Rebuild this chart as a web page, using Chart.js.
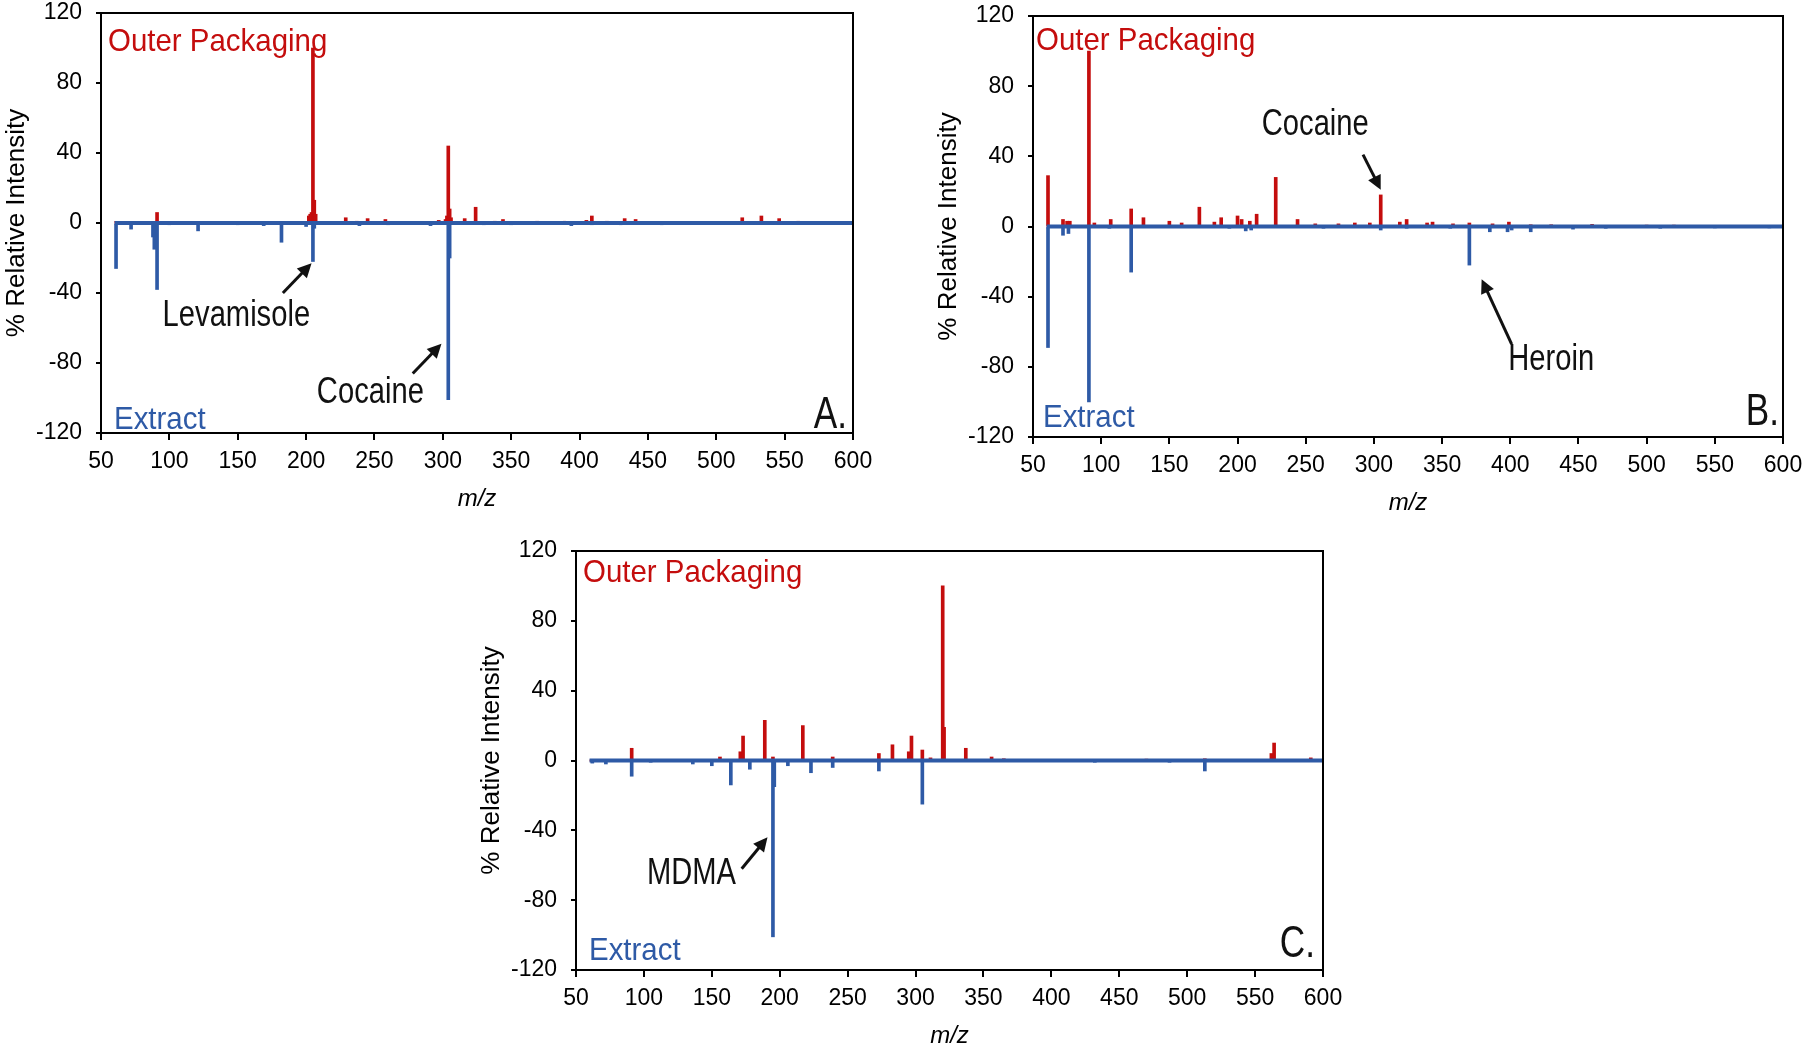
<!DOCTYPE html>
<html>
<head>
<meta charset="utf-8">
<title>Outer packaging vs extract spectra</title>
<script src="https://cdn.jsdelivr.net/npm/chart.js@4.4.1/dist/chart.umd.min.js"></script>
<style>
  html, body { margin: 0; padding: 0; background: #fff; overflow: hidden; }
  body { width: 1806px; height: 1048px; position: relative; }
  canvas { position: absolute; }
</style>
</head>
<body>
<canvas id="chartA"></canvas>
<canvas id="chartB"></canvas>
<canvas id="chartC"></canvas>
<script>
// axis ticks
const xTicks = [50, 100, 150, 200, 250, 300, 350, 400, 450, 500, 550, 600];
const yTicks = [-120, -80, -40, 0, 40, 80, 120];
const mzRange = [60, 600];

// A. cocaine + levamisole
const mzOuterA = [61, 72, 91, 121, 150, 182, 202, 203, 204, 205, 206, 207, 229, 237, 245, 258, 285, 297,
  302, 303, 304, 305, 306, 316, 324, 338, 344, 369, 389, 405, 409, 420, 433, 441, 460, 478, 500,
  519, 533, 546, 560, 573, 590];
const intOuterA = [0.8, 0.6, 6, 0.6, 0.5, 0.8, 4, 5, 6, 100, 13, 5, 3, 1, 2.5, 2, 0.8, 1.5,
  2, 4, 44, 8, 3, 2.5, 9, 1, 2, 1, 1, 1.5, 4, 1, 2.5, 2, 0.8, 0.8, 0.6,
  3, 4, 2.5, 1, 0.8, 0.8];
const mzExtractA = [61, 72, 88, 89, 91, 100, 121, 150, 169, 182, 200, 205, 206, 239, 260, 291, 304, 305,
  330, 350, 394, 409, 430, 460, 500, 560];
const intExtractA = [-26, -3.5, -8, -15, -38, -1, -4.5, -1, -1.5, -11, -2, -22, -3, -1.5, -1, -1.5, -101, -20,
  -1, -1, -1.5, -1, -1, -1, -0.8, -0.8];

// B. cocaine + heroin
const mzOuterB = [61, 72, 75, 77, 91, 95, 107, 122, 131, 150, 159, 172, 183, 188, 200, 203, 209, 214, 228, 244,
  257, 274, 286, 297, 305, 319, 324, 339, 343, 358, 370, 387, 399, 415, 430, 460, 500, 520, 560];
const intOuterB = [29, 4, 3, 3, 100, 2, 4, 10, 5, 3, 2, 11, 2.5, 5, 6, 4, 3, 7, 28, 4,
  1.5, 1.5, 2, 2, 18, 2.5, 4, 2, 2.5, 1.5, 2, 1.5, 2.5, 1, 1, 1.2, 0.8, 0.8, 0.6];
const mzExtractB = [61, 72, 76, 91, 106, 122, 194, 206, 210, 263, 305, 324, 356, 370, 385, 398, 401, 415,
  446, 470, 510, 550, 590];
const intExtractB = [-69, -5, -4, -100, -1, -26, -1, -2.5, -2, -1, -2, -1, -1, -22, -3, -3, -2, -3,
  -1.5, -1, -1, -0.8, -0.8];

// C. MDMA
const mzOuterC = [91, 156, 171, 173, 189, 195, 217, 239, 273, 283, 295, 297, 305, 311, 320, 321, 337, 356,
  365, 470, 513, 562, 564, 591];
const intOuterC = [7, 2, 5, 14, 23, 2, 20, 2, 4, 9, 5, 14, 6, 1.5, 100, 19, 7, 2,
  1, 0.8, 1, 4, 10, 1.5];
const mzExtractC = [62, 72, 91, 105, 136, 150, 164, 178, 195, 196, 206, 223, 239, 273, 305, 432, 487, 513];
const intExtractC = [-1.5, -2, -9, -1, -2, -3, -14, -5, -101, -15, -3, -7, -4, -6, -25, -1, -1, -6];

const RED = '#c40d0d';
const BLUE = '#2e5aa6';
const FONT = "'Liberation Sans', Arial, sans-serif";
const Y_AXIS_W = 100;
const X_AXIS_H = 85;
const PAD = { top: 30, left: 6, right: 40, bottom: 12 };

function toPoints(mz, vals) {
  return mz.map((m, i) => ({ x: m, y: vals[i] }));
}

// text squeezed horizontally (the figure uses a narrow font)
function drawText(ctx, text, x, y, color, size, sx, align, baseline) {
  ctx.save();
  ctx.font = size + 'px ' + FONT;
  ctx.fillStyle = color;
  ctx.textAlign = align;
  ctx.textBaseline = baseline || 'alphabetic';
  ctx.translate(x, y);
  ctx.scale(sx, 1);
  ctx.fillText(text, 0, 0);
  ctx.restore();
}

function drawArrow(ctx, x1, y1, x2, y2) {
  const ang = Math.atan2(y2 - y1, x2 - x1);
  const len = 14, half = 7;
  ctx.save();
  ctx.strokeStyle = '#111';
  ctx.fillStyle = '#111';
  ctx.lineWidth = 3;
  ctx.beginPath();
  ctx.moveTo(x1, y1);
  ctx.lineTo(x2 - Math.cos(ang) * len * 0.8, y2 - Math.sin(ang) * len * 0.8);
  ctx.stroke();
  ctx.beginPath();
  ctx.moveTo(x2, y2);
  ctx.lineTo(x2 - Math.cos(ang) * len + Math.sin(ang) * half, y2 - Math.sin(ang) * len - Math.cos(ang) * half);
  ctx.lineTo(x2 - Math.cos(ang) * len - Math.sin(ang) * half, y2 - Math.sin(ang) * len + Math.cos(ang) * half);
  ctx.closePath();
  ctx.fill();
  ctx.restore();
}

const panelDecor = {
  id: 'panelDecor',
  afterDraw(chart, args, opts) {
    const { ctx, chartArea: a, scales: { x, y } } = chart;
    ctx.save();
    ctx.strokeStyle = '#000';
    ctx.lineWidth = 2;
    ctx.strokeRect(a.left, a.top, a.right - a.left, a.bottom - a.top);
    ctx.restore();

    drawText(ctx, 'Outer Packaging', a.left + opts.outer[0], a.top + opts.outer[1], RED, 32, 0.92, 'left');
    drawText(ctx, 'Extract', a.left + opts.extract[0], a.bottom - opts.extract[1], BLUE, 32, 0.92, 'left');
    drawText(ctx, opts.letter, a.right - opts.letterPos[0], a.bottom - opts.letterPos[1], '#111', 44, 0.8, 'right');

    opts.notes.forEach(n => {
      drawText(ctx, n.text, x.getPixelForValue(n.at[0]), y.getPixelForValue(n.at[1]), '#111', 36, 0.81, 'center', 'middle');
      drawArrow(ctx, x.getPixelForValue(n.from[0]), y.getPixelForValue(n.from[1]),
        x.getPixelForValue(n.to[0]), y.getPixelForValue(n.to[1]));
    });
  }
};

// plot: wanted plot-area box on the page
function makePanel(id, plot, mzOuter, intOuter, mzExtract, intExtract, deco) {
  const canvas = document.getElementById(id);
  canvas.width = plot.right - plot.left + Y_AXIS_W + PAD.left + PAD.right;
  canvas.height = plot.bottom - plot.top + X_AXIS_H + PAD.top + PAD.bottom;
  canvas.style.left = (plot.left - Y_AXIS_W - PAD.left) + 'px';
  canvas.style.top = (plot.top - PAD.top) + 'px';

  return new Chart(canvas.getContext('2d'), {
    type: 'bar',
    data: {
      datasets: [
        { type: 'line', data: mzRange.map(m => ({ x: m, y: 0 })), borderColor: BLUE, borderWidth: 4, pointRadius: 0 },
        { data: toPoints(mzExtract, intExtract), backgroundColor: BLUE, barThickness: 3, grouped: false },
        { data: toPoints(mzOuter, intOuter), backgroundColor: RED, barThickness: 3, grouped: false },
        { type: 'line', data: mzRange.map(m => ({ x: m, y: 0 })), borderColor: RED, borderWidth: 2, pointRadius: 0 }
      ]
    },
    options: {
      responsive: false,
      animation: false,
      events: [],
      layout: { padding: PAD },
      plugins: {
        legend: { display: false },
        tooltip: { enabled: false },
        panelDecor: deco
      },
      scales: {
        x: {
          type: 'linear', min: 50, max: 600, offset: false,
          afterBuildTicks: s => { s.ticks = xTicks.map(v => ({ value: v })); },
          afterFit: s => { s.height = X_AXIS_H; },
          grid: { offset: false, drawOnChartArea: false, drawTicks: true, tickLength: 7, color: '#000', lineWidth: 2 },
          border: { display: false },
          ticks: { color: '#000', font: { family: FONT, size: 23 }, padding: 8, maxRotation: 0, autoSkip: false },
          title: { display: true, text: 'm/z', color: '#000', font: { family: FONT, size: 24, style: 'italic' }, padding: { top: 0, bottom: 4 } }
        },
        y: {
          type: 'linear', min: -120, max: 120,
          afterBuildTicks: s => { s.ticks = yTicks.map(v => ({ value: v })); },
          afterFit: s => { s.width = Y_AXIS_W; },
          grid: { drawOnChartArea: false, drawTicks: true, tickLength: 5, color: '#000', lineWidth: 2 },
          border: { display: false },
          ticks: { color: '#000', font: { family: FONT, size: 23 }, padding: 14 },
          title: { display: true, text: '% Relative Intensity', color: '#000', font: { family: FONT, size: 26 }, padding: 0 }
        }
      }
    },
    plugins: [panelDecor]
  });
}

makePanel('chartA', { left: 101, top: 13, right: 853, bottom: 433 },
  mzOuterA, intOuterA, mzExtractA, intExtractA, {
  letter: 'A.', outer: [7, 38], extract: [13, 4], letterPos: [6, 5],
  notes: [
    { text: 'Levamisole', at: [149, -53], from: [183, -40], to: [204, -23] },
    { text: 'Cocaine', at: [247, -97], from: [278, -86], to: [299, -69] }
  ]
});

makePanel('chartB', { left: 1033, top: 16, right: 1783, bottom: 437 },
  mzOuterB, intOuterB, mzExtractB, intExtractB, {
  letter: 'B.', outer: [3, 34], extract: [10, 10], letterPos: [4, 12],
  notes: [
    { text: 'Cocaine', at: [257, 58], from: [292, 41], to: [305, 21] },
    { text: 'Heroin', at: [430, -76], from: [401, -67], to: [379, -30] }
  ]
});

makePanel('chartC', { left: 576, top: 551, right: 1323, bottom: 970 },
  mzOuterC, intOuterC, mzExtractC, intExtractC, {
  letter: 'C.', outer: [7, 31], extract: [13, 10], letterPos: [8, 13],
  notes: [
    { text: 'MDMA', at: [135, -65], from: [172, -62], to: [191, -44] }
  ]
});
</script>
</body>
</html>
